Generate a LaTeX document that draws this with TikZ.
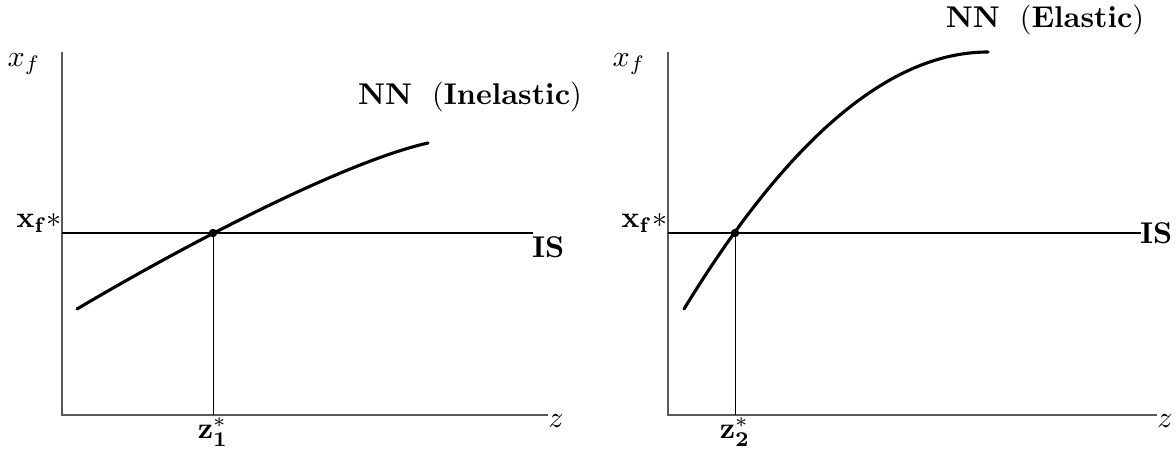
\documentclass[tikz,border=0pt]{standalone}
\begin{document}
\begin{tikzpicture}[x=0.3533pt,y=-0.3533pt,
  axis/.style={draw=black!65,line width=0.5pt},
  isline/.style={draw=black,line width=0.75pt},
  curve/.style={draw=black,line width=1.1pt,line cap=round},
  drop/.style={draw=black,line width=0.35pt},
  lbl/.style={inner sep=0pt,outer sep=0pt,scale=1.06},
  eq/.style={fill=black,circle,inner sep=0pt,minimum size=3pt}]
\useasboundingbox (0,0) rectangle (1176,450);
% ---------- left panel ----------
\coordinate (Ltop) at (62,52);
\coordinate (Lo) at (62,415);
\coordinate (Lxend) at (548,415);
\coordinate (Lis0) at (62,233);
\coordinate (Lis1) at (533,233);
\coordinate (Lfoot) at (213,415);
\coordinate (Lc0) at (77,309);
\coordinate (Lc1) at (428,143);
\node[eq] (Lpt) at (213,233) {};
\draw[axis] (Ltop) -- (Lo) -- (Lxend);
\draw[isline] (Lis0) -- (Lis1);
\draw[drop] (Lpt.center) -- (Lfoot);
\draw[curve] (Lc0) .. controls (197,238) and (348,161) .. (Lc1);
\node[lbl] (Lxf) at (24,64) {$x_f$};
\node[lbl,anchor=base east] (Lxs) at (62,228) {$\mathbf{x_f}{*}$};
\node[lbl] (Lz) at (556,421) {$z$};
\node[lbl] (Lzs) at (213,432) {$\mathbf{z}_{\mathbf{1}}^{*}$};
\node[lbl,anchor=north west] (LIS) at (532,237) {$\mathbf{IS}$};
\node[lbl,anchor=base] (LNN) at (470,105) {$\mathbf{NN}\ \ (\mathbf{Inelastic})$};
% ---------- right panel ----------
\coordinate (Rtop) at (668,52);
\coordinate (Ro) at (668,415);
\coordinate (Rxend) at (1157,415);
\coordinate (Ris0) at (668,233);
\coordinate (Ris1) at (1141,233);
\coordinate (Rfoot) at (735,415);
\coordinate (Rc0) at (684,309);
\coordinate (Rc1) at (988,52);
\node[eq] (Rpt) at (735,233) {};
\draw[axis] (Rtop) -- (Ro) -- (Rxend);
\draw[isline] (Ris0) -- (Ris1);
\draw[drop] (Rpt.center) -- (Rfoot);
\draw[curve] (Rc0) .. controls (788.7,137.7) and (890,52) .. (Rc1);
\node[lbl] (Rxf) at (629,64) {$x_f$};
\node[lbl,anchor=base east] (Rxs) at (667,228) {$\mathbf{x_f}{*}$};
\node[lbl] (Rz) at (1165,421) {$z$};
\node[lbl] (Rzs) at (735,432) {$\mathbf{z}_{\mathbf{2}}^{*}$};
\node[lbl,anchor=west] (RIS) at (1140,233) {$\mathbf{IS}$};
\node[lbl,anchor=base] (RNN) at (1045,28) {$\mathbf{NN}\ \ (\mathbf{Elastic})$};
\end{tikzpicture}
\end{document}
